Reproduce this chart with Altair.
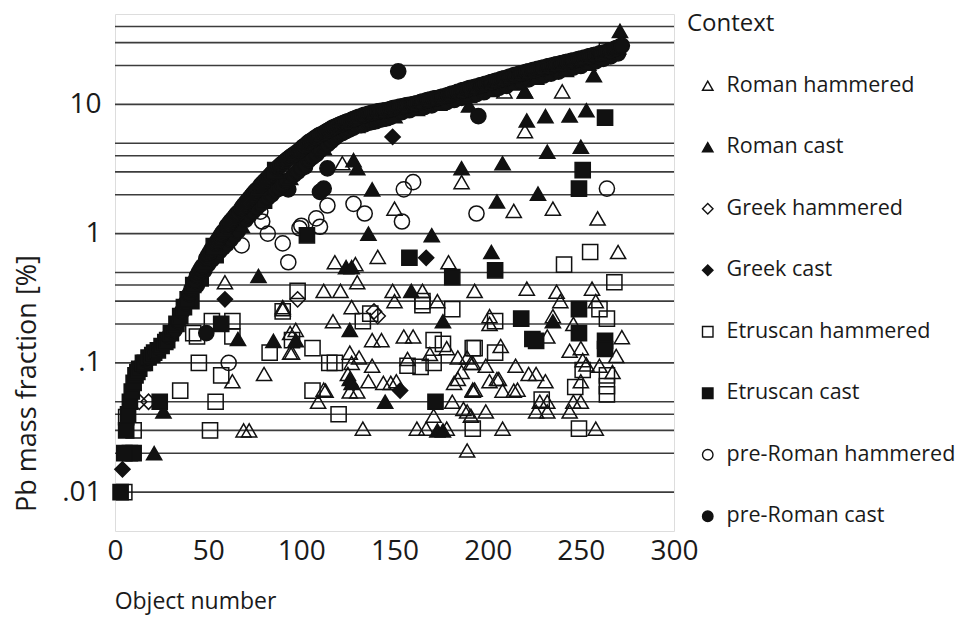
import altair as alt
import pandas as pd

# ---------------- data ----------------
CATEGORIES = ["Roman hammered", "Roman cast", "Greek hammered", "Greek cast",
              "Etruscan hammered", "Etruscan cast", "pre-Roman hammered", "pre-Roman cast"]
SHAPES = ["triangle-up", "triangle-up", "diamond", "diamond", "square", "square", "circle", "circle"]
FILLS = ["transparent", "#111111", "transparent", "#111111", "transparent", "#111111", "transparent", "#111111"]
STROKES = ["#111111"] * 8
CODES = "ABCDEFGH"

# Roman hammered (open triangles)
RH_X = [122, 186, 150, 118, 129, 141, 179, 59, 112, 121, 130, 149, 165, 193, 150,
        209, 220, 240, 220, 214, 235, 259, 270, 221, 237, 256, 173, 90, 127, 117,
        97, 94, 138, 143, 155, 160, 178, 126, 131, 127, 138, 157, 169, 184, 189, 192,
        125, 130, 126, 136, 144, 148, 151, 113, 109, 133, 171, 162, 167, 178,
        181, 189, 189, 184, 192, 239, 258, 201, 201, 235, 246, 232, 272, 269,
        244, 250, 251, 207, 191, 199, 215, 222, 226, 231, 201, 206, 208, 214, 216, 193,
        253, 260, 267, 250, 246, 250, 228, 232, 226, 232, 244, 191, 199, 208, 258,
        63, 80, 69, 72, 94, 95, 112, 90, 182, 186, 192, 205, 187]
RH_Y = [3.5, 2.5, 1.56, 0.6, 0.58, 0.66, 0.6, 0.42, 0.36, 0.36, 0.42, 0.36, 0.36, 0.36, 0.3,
        12.6, 12.6, 12.6, 6.2, 1.5, 1.56, 1.31, 0.72, 0.375, 0.355, 0.375, 0.3, 0.27, 0.27, 0.21,
        0.18, 0.12, 0.15, 0.15, 0.16, 0.16, 0.13, 0.12, 0.11, 0.1, 0.095, 0.107, 0.117, 0.11, 0.11, 0.1,
        0.082, 0.06, 0.06, 0.072, 0.07, 0.07, 0.072, 0.061, 0.05, 0.031, 0.039, 0.031, 0.031, 0.031,
        0.05, 0.042, 0.021, 0.075, 0.062, 0.3, 0.3, 0.23, 0.2, 0.23, 0.2, 0.16, 0.158, 0.113,
        0.124, 0.13, 0.105, 0.135, 0.1, 0.095, 0.095, 0.082, 0.082, 0.072, 0.072, 0.075, 0.061, 0.061, 0.062, 0.062,
        0.097, 0.095, 0.085, 0.072, 0.05, 0.05, 0.05, 0.05, 0.042, 0.042, 0.042, 0.039, 0.042, 0.031, 0.031,
        0.072, 0.082, 0.03, 0.03, 0.17, 0.12, 0.062, 0.26, 0.07, 0.085, 0.061, 0.075, 0.044]

# Roman cast (filled triangles)
RC_X = [128, 130, 186, 138, 136, 170, 124, 127, 159, 220, 221, 231, 244, 253, 190,
        232, 250, 208, 227, 205, 202, 176, 126, 97, 85, 66, 126, 127, 145, 173, 176,
        235, 26, 21, 77, 271, 257]
RC_Y = [3.7, 3.2, 3.2, 2.2, 1.0, 0.97, 0.55, 0.55, 0.36, 12.6, 7.5, 8.1, 8.2, 9.0, 9.8,
        4.3, 4.7, 3.5, 2.04, 1.77, 0.72, 0.21, 0.18, 0.15, 0.148, 0.153, 0.075, 0.07, 0.05, 0.03, 0.03,
        0.21, 0.042, 0.02, 0.47, 37.0, 16.8]

# Greek hammered (open diamonds)
GH_X = [13, 18, 98, 139, 141]
GH_Y = [0.05, 0.05, 0.31, 0.25, 0.23]

# Greek cast (filled diamonds)
GC_X = [149, 167, 59, 153]
GC_Y = [5.6, 0.65, 0.31, 0.061]

# Etruscan hammered (open squares)
EH_X = [98, 165, 165, 181, 241, 255, 268, 133, 95, 106, 171, 176, 192, 115, 118, 157, 164, 171,
        106, 120, 192, 260, 264, 204, 193, 204, 251, 264, 264, 264, 247, 229, 249,
        52, 63, 42, 45, 57, 35, 54, 51, 83, 90, 44, 63, 5, 6, 10, 137, 264]
EH_Y = [0.36, 0.3, 0.28, 0.26, 0.575, 0.72, 0.42, 0.21, 0.15, 0.13, 0.15, 0.14, 0.13, 0.1, 0.1, 0.095, 0.093, 0.1,
        0.061, 0.04, 0.031, 0.26, 0.22, 0.21, 0.13, 0.12, 0.088, 0.08, 0.066, 0.057, 0.065, 0.052, 0.031,
        0.21, 0.21, 0.17, 0.1, 0.08, 0.061, 0.05, 0.03, 0.12, 0.25, 0.16, 0.16, 0.01, 0.038, 0.03, 0.24, 26.0]

# Etruscan cast (filled squares)
EC_X = [103, 158, 181, 263, 251, 249, 204, 249, 218, 249, 224, 226, 263, 263, 172, 24, 41, 57, 8, 10]
EC_Y = [0.97, 0.65, 0.46, 7.9, 3.1, 2.23, 0.52, 0.26, 0.22, 0.17, 0.153, 0.148, 0.148, 0.128, 0.05,
        0.05, 0.3, 0.2, 0.02, 0.02]

# pre-Roman hammered (open circles)
PH_X = [160, 155, 114, 128, 134, 108, 110, 100, 194, 154, 93, 264, 78, 79, 82, 68, 90, 99, 61]
PH_Y = [2.5, 2.2, 1.65, 1.7, 1.43, 1.31, 1.13, 1.15, 1.43, 1.24, 0.6, 2.23, 1.48, 1.24, 1.0, 0.81,
        0.84, 1.1, 0.1]

# pre-Roman cast (filled circles)
PC_X = [152, 195, 49, 88, 93, 110, 112, 114, 102]
PC_Y = [18.0, 8.1, 0.17, 2.23, 2.2, 2.1, 2.23, 3.2, 3.3]

# ranked upper curve: objects 3 .. 272
ENV_START = 3
ENV_Y = [0.01, 0.015, 0.02, 0.03, 0.04, 0.05, 0.06, 0.07, 0.08, 0.085, 0.09, 0.095, 0.1,
         0.1, 0.105, 0.11, 0.11, 0.115, 0.12, 0.12, 0.125, 0.13, 0.135, 0.14, 0.145, 0.15, 0.16, 0.17,
         0.175, 0.18, 0.2, 0.21, 0.23, 0.25, 0.27, 0.29, 0.31, 0.34, 0.37, 0.4, 0.43, 0.47, 0.5,
         0.53, 0.56, 0.6, 0.64, 0.68, 0.72, 0.76, 0.8, 0.84, 0.88, 0.93, 0.98, 1.03, 1.08, 1.14, 1.19,
         1.24, 1.29, 1.34, 1.4, 1.45, 1.51, 1.58, 1.65, 1.72, 1.79, 1.86, 1.94, 2.02, 2.1, 2.18, 2.26,
         2.35, 2.43, 2.52, 2.6, 2.7, 2.8, 2.9, 3.0, 3.1, 3.2, 3.3, 3.4, 3.5, 3.6, 3.7, 3.8, 3.9, 4.0,
         4.1, 4.2, 4.3, 4.4,
         4.55, 4.7, 4.8, 4.95, 5.1, 5.2, 5.3, 5.45, 5.55, 5.7, 5.8, 5.9, 6.0, 6.1, 6.25, 6.35, 6.5, 6.6,
         6.7, 6.8, 6.9, 7.0, 7.1, 7.2, 7.3, 7.4, 7.5, 7.6, 7.7, 7.8, 7.9, 8.0, 8.1, 8.2, 8.3, 8.4, 8.45,
         8.5, 8.6, 8.65, 8.7, 8.8, 8.85, 8.9, 8.95, 9.0, 9.05, 9.1, 9.2, 9.3, 9.4, 9.45, 9.5, 9.6, 9.65,
         9.7, 9.8, 9.85, 9.9, 9.95,
         10.0, 10.1, 10.2, 10.3, 10.4, 10.5, 10.6, 10.7, 10.8, 10.9, 11.0, 11.1, 11.15, 11.2, 11.3, 11.4,
         11.5, 11.6, 11.7,
         11.8, 11.95, 12.1, 12.2, 12.3, 12.5, 12.6, 12.75, 12.9, 13.0, 13.15, 13.3, 13.4, 13.5, 13.6,
         13.7, 13.85, 14.0,
         14.1, 14.25, 14.4, 14.55, 14.7, 14.85, 15.0, 15.15, 15.3, 15.45, 15.6, 15.75, 15.9, 16.05,
         16.2, 16.4, 16.6, 16.8,
         16.95, 17.1, 17.25, 17.4, 17.55, 17.7, 17.85, 18.0, 18.15, 18.3, 18.5, 18.65, 18.8, 18.95,
         19.1, 19.25, 19.4, 19.6,
         19.75, 19.9, 20.05, 20.2, 20.35, 20.5, 20.7, 20.85, 21.0, 21.2, 21.35, 21.5, 21.7, 21.85,
         22.0, 22.2, 22.4, 22.6,
         22.8, 23.0, 23.2, 23.4, 23.6, 23.8, 24.0, 24.2, 24.5, 24.7, 24.9, 25.1, 25.3, 25.6, 25.9,
         26.2, 26.5, 26.8, 27.2, 27.6, 28.0, 28.5]
ENV_CAT = ("FD" + "FFFFFFFF" + "FHFFHFHFFHFHFHFFHFHHFHFHFHFHHFHH"
           + "HHHBHHHHFHHHHHBHHHHHHHDHHHHHHHHHBHHHHHHHHFHHHHHHHHHHBHHHHHHHHHHHHHBHHHHHHHHHHHHHHBHHHH"
           + "HBHHBHHHBHHHBHHBHHHHBHHBHHHBHHHHBHHBHHHBHHHBHHBHHHHBHHBHHBHHHBHHBHHHHBHHBHHBHHHBHHB"
           + "HHBHHBHHHBHHBHBHHBHHBHHHBHHBHHBHHBHHHBHBHHBHHBHHBHBHHBHHB")

# lower edge of the dense band (second measurements of ranked objects)
LOW_X = [44, 46, 48, 50, 52, 54, 56, 58, 60, 62, 64, 66, 68, 70, 72, 74, 76, 78, 80, 82, 84, 86,
         88, 90, 92, 94, 96, 98, 100, 102, 104, 106, 108, 110, 112, 114, 116, 118, 120, 122, 124,
         126, 128, 130, 132, 134, 136, 138, 140, 142, 144, 146, 148, 150,
         154, 158, 162, 166, 170, 174, 178, 182, 186, 190, 194, 198, 202, 206, 210, 214, 218,
         222, 226, 230, 234, 238, 242, 246, 250, 254, 258, 262, 266, 270]
LOW_Y = [0.4, 0.45, 0.52, 0.58, 0.63, 0.68, 0.73, 0.78, 0.83, 0.9, 0.97, 1.05, 1.15, 1.28, 1.38,
         1.48, 1.58, 1.68, 1.8, 1.9, 2.0, 2.15, 2.25, 2.4, 2.55, 2.7, 2.85, 3.0, 3.2, 3.45, 3.7, 3.9,
         4.1, 4.4, 4.6, 4.9, 5.2, 5.5, 5.8, 6.0, 6.2, 6.4, 6.6, 6.8, 6.9, 7.0, 7.2, 7.3, 7.4, 7.6,
         7.7, 7.8, 8.0, 8.1,
         8.7, 9.0, 9.2, 9.5, 9.8, 10.1, 10.4, 10.8, 11.2, 11.6, 12.0, 12.4, 12.9, 13.4, 13.9, 14.5,
         15.0, 15.6, 16.1, 16.7, 17.3, 17.9, 18.5, 19.2, 19.8, 20.6, 21.5, 22.5, 23.5, 24.8]
LOW_CAT = ("HFHHHFHHHHHHBHHHHHFHHHHHHBHHHHHHHHBHHHHHHHHBHHHHHHHH"
           + "HBHHBHHBHHHBHHBHHBHHBHHHBHHBHH")

GRID = [0.01, 0.02, 0.03, 0.04, 0.05, 0.1, 0.2, 0.3, 0.4, 0.5,
        1, 2, 3, 4, 5, 10, 20, 30, 40]
X_TICKS = [0, 50, 100, 150, 200, 250, 300]
Y_TICKS = [0.01, 0.1, 1, 10]
Y_LABELS = [".01", ".1", "1", "10"]

# ---------------- table ----------------
rows = []
scatter = [("A", RH_X, RH_Y), ("C", GH_X, GH_Y), ("E", EH_X, EH_Y), ("G", PH_X, PH_Y),
           ("B", RC_X, RC_Y), ("D", GC_X, GC_Y), ("F", EC_X, EC_Y), ("H", PC_X, PC_Y)]
for code, xs, ys in scatter:
    for xv, yv in zip(xs, ys):
        rows.append({"obj": xv, "pb": yv, "ctx": CATEGORIES[CODES.index(code)]})
low_cats = (LOW_CAT + "H" * 200)[:len(LOW_Y)]
for xv, yv, code in zip(LOW_X, LOW_Y, low_cats):
    rows.append({"obj": xv, "pb": yv, "ctx": CATEGORIES[CODES.index(code)]})
cats = (ENV_CAT + "H" * 400)[:len(ENV_Y)]
for i, (yv, code) in enumerate(zip(ENV_Y, cats)):
    rows.append({"obj": ENV_START + i, "pb": yv, "ctx": CATEGORIES[CODES.index(code)]})
pts = pd.DataFrame(rows)
pts["order"] = range(len(pts))
grid = pd.DataFrame({"pb": GRID})

FONT = "Open Sans"
label_expr = " : ".join(
    f"datum.value < {v * 3.0} ? '{lab}'" for v, lab in zip(Y_TICKS[:-1], Y_LABELS[:-1])
) + f" : '{Y_LABELS[-1]}'"

yscale = alt.Scale(type="log", domain=[0.005, 50], nice=False)
yaxis = alt.Axis(values=Y_TICKS, labelExpr=label_expr, ticks=False, grid=False, domain=False,
                 labelFontSize=28, labelPadding=14, labelColor="#1a1a1a", labelFont=FONT,
                 title="Pb mass fraction [%]", titleFont=FONT, titleFontSize=27,
                 titleFontWeight="normal", titleColor="#1a1a1a", titleAngle=-90,
                 titleX=-88, titleY=369, titleAlign="center", titleBaseline="middle",
                 titleLimit=0)
Y = alt.Y("pb:Q", scale=yscale, axis=yaxis)

xaxis = alt.Axis(values=X_TICKS, ticks=False, grid=False, domain=False, labelFontSize=28,
                 labelPadding=6, labelColor="#1a1a1a", labelFont=FONT, labelFlush=False,
                 title="Object number", titleFont=FONT, titleFontSize=23, titleFontWeight="normal",
                 titleColor="#1a1a1a", titleX=80, titleY=70, titleAlign="center",
                 titleBaseline="middle", titleLimit=0)

leg = alt.Legend(title="Context", orient="none", legendX=572, legendY=-2, padding=0,
                 titleFont=FONT, titleFontSize=24, titleFontWeight="normal", titleColor="#1a1a1a",
                 titlePadding=39, titleLimit=300, labelFont=FONT, labelFontSize=21.5,
                 labelColor="#1a1a1a", labelLimit=0, rowPadding=38.5, symbolSize=110,
                 symbolStrokeColor="#111111", symbolStrokeWidth=1.4, symbolOffset=10,
                 labelOffset=8)

rules = alt.Chart(grid).mark_rule(color="#3c3c3c", strokeWidth=1.6).encode(y=Y)

points = alt.Chart(pts).mark_point(filled=True, strokeWidth=1.5, size=230, opacity=1).encode(
    x=alt.X("obj:Q", scale=alt.Scale(domain=[0, 300], nice=False), axis=xaxis),
    y=Y,
    shape=alt.Shape("ctx:N", scale=alt.Scale(domain=CATEGORIES, range=SHAPES), legend=leg),
    fill=alt.Fill("ctx:N", scale=alt.Scale(domain=CATEGORIES, range=FILLS), legend=leg),
    stroke=alt.Stroke("ctx:N", scale=alt.Scale(domain=CATEGORIES, range=STROKES), legend=leg),
    order=alt.Order("order:Q"),
)

chart = alt.layer(rules, points).properties(
    width=559, height=517,
    autosize=alt.AutoSizeParams(type="none"),
    padding={"left": 107, "top": 6, "right": 296, "bottom": 85},
).configure_view(stroke="#444444", strokeWidth=1.6).configure(font=FONT, background="white")

chart.save("out.html", embed_options={"renderer": "svg", "actions": False})
